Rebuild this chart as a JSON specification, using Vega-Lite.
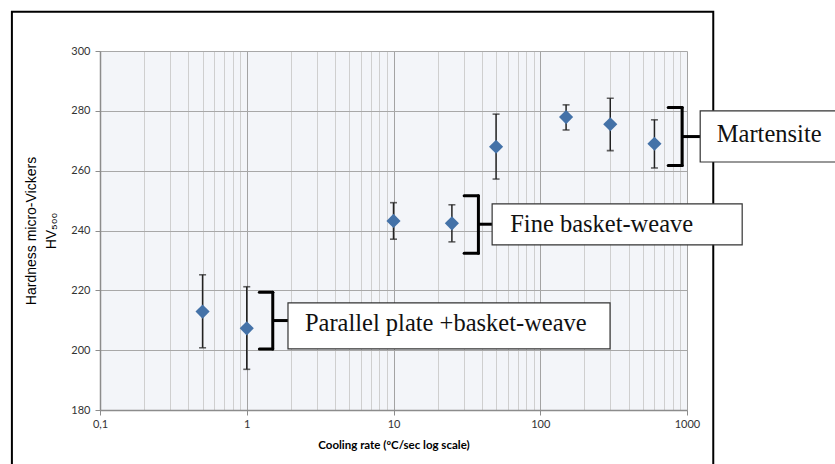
{
  "$schema": "https://vega.github.io/schema/vega-lite/v6.json",
  "width": 587,
  "height": 359,
  "autosize": {"type": "none"},
  "padding": {"left": 100, "top": 51, "right": 148, "bottom": 54},
  "background": "white",
  "config": {"view": {"fill": "#f3f5f9", "stroke": null}, "font": "Liberation Sans"},
  "datasets": {
    "points": [
      {"rate": 0.5, "hv": 212.9, "lo": 200.8, "hi": 225.2},
      {"rate": 1, "hv": 207.3, "lo": 193.6, "hi": 221.2},
      {"rate": 10, "hv": 243.2, "lo": 237.1, "hi": 249.3},
      {"rate": 25, "hv": 242.4, "lo": 236.2, "hi": 248.6},
      {"rate": 50, "hv": 268.0, "lo": 257.2, "hi": 278.9},
      {"rate": 150, "hv": 277.9, "lo": 273.6, "hi": 282.0},
      {"rate": 300, "hv": 275.5, "lo": 266.7, "hi": 284.2},
      {"rate": 600, "hv": 269.0, "lo": 260.9, "hi": 277.0}
    ],
    "frame": [{"x1": 0.0251, "x2": 1510, "y1": 313.1, "y2": 150}],
    "notes": [
      {"label": "Martensite", "bx1": 1230, "bx2": 11070, "by1": 280.0, "by2": 262.9, "tx": 1596, "ty": 272.0, "brl": 744.7, "brr": 927, "brt": 281.1, "brb": 261.7, "bry": 271.4},
      {"label": "Fine basket-weave", "bx1": 47.0, "bx2": 2377, "by1": 248.9, "by2": 235.2, "tx": 62.4, "ty": 241.9, "brl": 30.3, "brr": 37.9, "brt": 251.6, "brb": 232.4, "bry": 242.1},
      {"label": "Parallel plate +basket-weave", "bx1": 1.91, "bx2": 299, "by1": 215.8, "by2": 200.4, "tx": 2.49, "ty": 208.8, "brl": 1.219, "brr": 1.504, "brt": 219.4, "brb": 200.4, "bry": 209.9}
    ]
  },
  "resolve": {"axis": {"x": "independent", "y": "independent"}},
  "layer": [
    {
      "data": {"name": "frame"},
      "mark": {"type": "rect", "fill": null, "stroke": "#000000", "strokeWidth": 2, "clip": false},
      "encoding": {
        "x": {"field": "x1", "type": "quantitative", "scale": {"type": "log", "domain": [0.1, 1000], "nice": false},
          "axis": {"orient": "bottom", "values": [0.2,0.3,0.4,0.5,0.6,0.7,0.8,0.9,2,3,4,5,6,7,8,9,20,30,40,50,60,70,80,90,200,300,400,500,600,700,800,900],
            "grid": true, "gridColor": "#cfcfcf", "gridWidth": 1, "labels": false, "ticks": false, "domain": false, "title": null}},
        "x2": {"field": "x2"},
        "y": {"field": "y1", "type": "quantitative", "scale": {"domain": [180, 300], "nice": false, "zero": false}, "axis": null},
        "y2": {"field": "y2"}
      }
    },
    {
      "data": {"name": "points"},
      "mark": {"type": "errorbar", "ticks": {"size": 7, "thickness": 1.6, "color": "#222222"}, "rule": {"strokeWidth": 1.5, "color": "#222222"}},
      "encoding": {
        "x": {"field": "rate", "type": "quantitative", "scale": {"type": "log", "domain": [0.1, 1000], "nice": false},
          "axis": {"orient": "bottom", "values": [0.1, 1, 10, 100, 1000], "grid": true, "gridColor": "#a3a3a3", "gridWidth": 1,
            "labelExpr": "datum.value == 0.1 ? '0,1' : format(datum.value, 'd')", "labelFont": "Lato", "labelFontSize": 11, "labelColor": "#333333", "labelPadding": 3, "labelFlush": false,
            "tickSize": 5, "tickColor": "#8c8c8c", "domainColor": "#8c8c8c", "domainWidth": 1.5,
            "title": "Cooling rate (ºC/sec log scale)", "titleFont": "Lato", "titleFontSize": 11.5, "titleFontWeight": "bold", "titleColor": "#000000", "titlePadding": 10}},
        "y": {"field": "lo", "type": "quantitative", "scale": {"domain": [180, 300], "nice": false, "zero": false},
          "axis": {"orient": "left", "values": [180, 200, 220, 240, 260, 280, 300], "grid": true, "gridColor": "#a8a8a8", "gridWidth": 1.2,
            "labelFont": "Lato", "labelFontSize": 11, "labelColor": "#333333", "labelPadding": 5,
            "tickSize": 5, "tickColor": "#8c8c8c", "domainColor": "#8c8c8c", "domainWidth": 1.5,
            "title": ["Hardness micro-Vickers", "HV₅₀₀"], "titleFont": "Liberation Sans", "titleFontSize": 14, "titleFontWeight": "normal", "titleColor": "#000000", "titlePadding": 12, "titleLineHeight": 20}},
        "y2": {"field": "hi"}
      }
    },
    {
      "data": {"name": "points"},
      "mark": {"type": "point", "shape": "diamond", "filled": true, "size": 200, "color": "#4472a8", "opacity": 1},
      "encoding": {
        "x": {"field": "rate", "type": "quantitative", "scale": {"type": "log", "domain": [0.1, 1000], "nice": false}, "axis": null},
        "y": {"field": "hv", "type": "quantitative", "scale": {"domain": [180, 300], "nice": false, "zero": false}, "axis": null}
      }
    },
    {
      "data": {"name": "notes"},
      "mark": {"type": "rule", "color": "#000000", "strokeWidth": 3, "strokeCap": "round", "clip": false},
      "encoding": {
        "x": {"field": "brl", "type": "quantitative", "scale": {"type": "log", "domain": [0.1, 1000], "nice": false}, "axis": null},
        "x2": {"field": "brr"},
        "y": {"field": "brt", "type": "quantitative", "scale": {"domain": [180, 300], "nice": false, "zero": false}, "axis": null}
      }
    },
    {
      "data": {"name": "notes"},
      "mark": {"type": "rule", "color": "#000000", "strokeWidth": 3, "strokeCap": "round", "clip": false},
      "encoding": {
        "x": {"field": "brl", "type": "quantitative", "scale": {"type": "log", "domain": [0.1, 1000], "nice": false}, "axis": null},
        "x2": {"field": "brr"},
        "y": {"field": "brb", "type": "quantitative", "scale": {"domain": [180, 300], "nice": false, "zero": false}, "axis": null}
      }
    },
    {
      "data": {"name": "notes"},
      "mark": {"type": "rule", "color": "#000000", "strokeWidth": 3, "strokeCap": "round", "clip": false},
      "encoding": {
        "x": {"field": "brr", "type": "quantitative", "scale": {"type": "log", "domain": [0.1, 1000], "nice": false}, "axis": null},
        "y": {"field": "brt", "type": "quantitative", "scale": {"domain": [180, 300], "nice": false, "zero": false}, "axis": null},
        "y2": {"field": "brb"}
      }
    },
    {
      "data": {"name": "notes"},
      "mark": {"type": "rule", "color": "#000000", "strokeWidth": 3, "strokeCap": "butt", "clip": false},
      "encoding": {
        "x": {"field": "brr", "type": "quantitative", "scale": {"type": "log", "domain": [0.1, 1000], "nice": false}, "axis": null},
        "x2": {"field": "bx1"},
        "y": {"field": "bry", "type": "quantitative", "scale": {"domain": [180, 300], "nice": false, "zero": false}, "axis": null}
      }
    },
    {
      "data": {"name": "notes"},
      "mark": {"type": "rect", "fill": "#ffffff", "stroke": "#333333", "strokeWidth": 1.2, "clip": false},
      "encoding": {
        "x": {"field": "bx1", "type": "quantitative", "scale": {"type": "log", "domain": [0.1, 1000], "nice": false}, "axis": null},
        "x2": {"field": "bx2"},
        "y": {"field": "by1", "type": "quantitative", "scale": {"domain": [180, 300], "nice": false, "zero": false}, "axis": null},
        "y2": {"field": "by2"}
      }
    },
    {
      "data": {"name": "notes"},
      "mark": {"type": "text", "font": "Liberation Serif", "fontSize": 24.5, "align": "left", "baseline": "middle", "color": "#111111", "clip": false},
      "encoding": {
        "text": {"field": "label"},
        "x": {"field": "tx", "type": "quantitative", "scale": {"type": "log", "domain": [0.1, 1000], "nice": false}, "axis": null},
        "y": {"field": "ty", "type": "quantitative", "scale": {"domain": [180, 300], "nice": false, "zero": false}, "axis": null}
      }
    }
  ]
}
